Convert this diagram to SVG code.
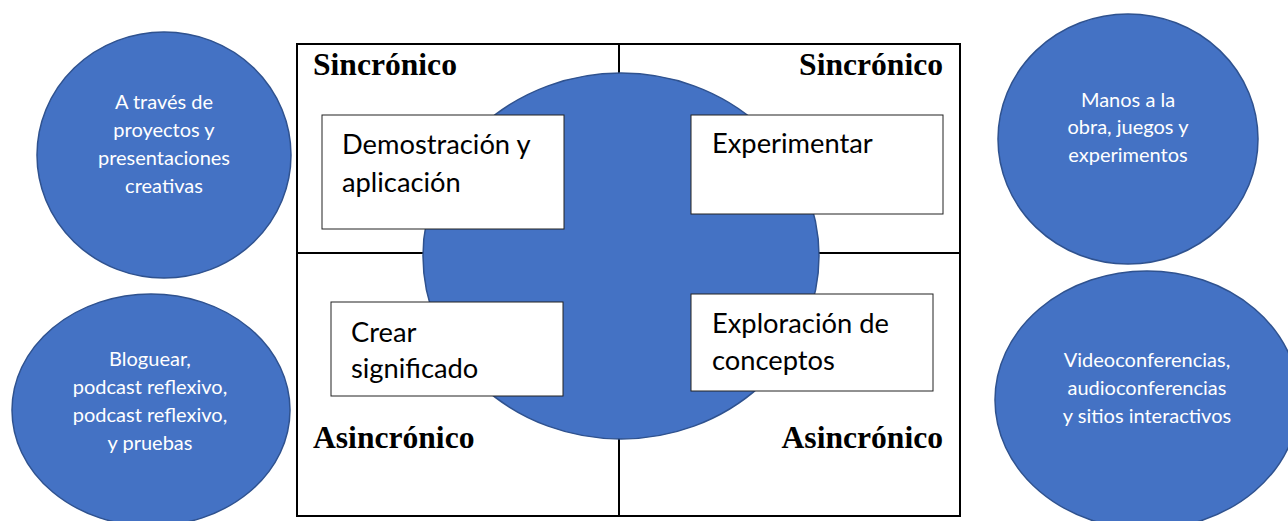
<svg xmlns="http://www.w3.org/2000/svg" width="1288" height="521" viewBox="0 0 1288 521">
<style>
.blob{fill:#4472C4;stroke:#2F528F;stroke-width:1.5}
.ct{font-family:Lato,"Liberation Sans",sans-serif;font-size:20px;fill:#ffffff;text-anchor:middle}
.frame{fill:none;stroke:#000;stroke-width:2}
.box{fill:#fff;stroke:#222;stroke-width:1}
.bt{font-family:Lato,"Liberation Sans",sans-serif;font-size:27.3px;fill:#000}
.hd{font-family:"Liberation Serif","Times New Roman",serif;font-weight:bold;font-size:31.6px;fill:#000}
</style>
<rect width="1288" height="521" fill="#fff"/>
<g id="circle-proyectos">
<ellipse class="blob" cx="164" cy="155" rx="127" ry="123"/>
<text class="ct" x="164" y="109">A través de</text>
<text class="ct" x="164" y="137">proyectos y</text>
<text class="ct" x="164" y="165">presentaciones</text>
<text class="ct" x="164" y="193">creativas</text>
</g>
<g id="circle-bloguear">
<ellipse class="blob" cx="151" cy="410" rx="139" ry="116"/>
<text class="ct" x="150" y="366">Bloguear,</text>
<text class="ct" x="150" y="394">podcast reflexivo,</text>
<text class="ct" x="150" y="422">podcast reflexivo,</text>
<text class="ct" x="150" y="450">y pruebas</text>
</g>
<g id="circle-manos">
<ellipse class="blob" cx="1128" cy="139" rx="130" ry="125"/>
<text class="ct" x="1128" y="107">Manos a la</text>
<text class="ct" x="1128" y="134">obra, juegos y</text>
<text class="ct" x="1128" y="162">experimentos</text>
</g>
<g id="circle-video">
<ellipse class="blob" cx="1147" cy="400" rx="152" ry="129"/>
<text class="ct" x="1147" y="367">Videoconferencias,</text>
<text class="ct" x="1147" y="395">audioconferencias</text>
<text class="ct" x="1147" y="423">y sitios interactivos</text>
</g>
<g id="frame">
<rect class="frame" x="297" y="44" width="663" height="472"/>
<line class="frame" x1="619" y1="44" x2="619" y2="516"/>
<line class="frame" x1="297" y1="253" x2="960" y2="253"/>
</g>
<g id="center-circle">
<ellipse class="blob" cx="621" cy="256" rx="198" ry="183"/>
</g>
<g id="labels">
<text class="hd" x="313" y="75">Sincrónico</text>
<text class="hd" x="943" y="75" text-anchor="end">Sincrónico</text>
<text class="hd" x="313" y="448">Asincrónico</text>
<text class="hd" x="943" y="448" text-anchor="end">Asincrónico</text>
</g>
<g id="box-demostracion">
<rect class="box" x="322" y="115" width="242" height="114"/>
<text class="bt" x="342" y="154">Demostración y</text>
<text class="bt" x="342" y="192">aplicación</text>
</g>
<g id="box-experimentar">
<rect class="box" x="691" y="115" width="252" height="99"/>
<text class="bt" x="712" y="153">Experimentar</text>
</g>
<g id="box-crear">
<rect class="box" x="331" y="302" width="232" height="94"/>
<text class="bt" x="351" y="342">Crear</text>
<text class="bt" x="351" y="378">significado</text>
</g>
<g id="box-exploracion">
<rect class="box" x="691" y="294" width="242" height="97"/>
<text class="bt" x="712" y="333">Exploración de</text>
<text class="bt" x="712" y="370">conceptos</text>
</g>
</svg>
